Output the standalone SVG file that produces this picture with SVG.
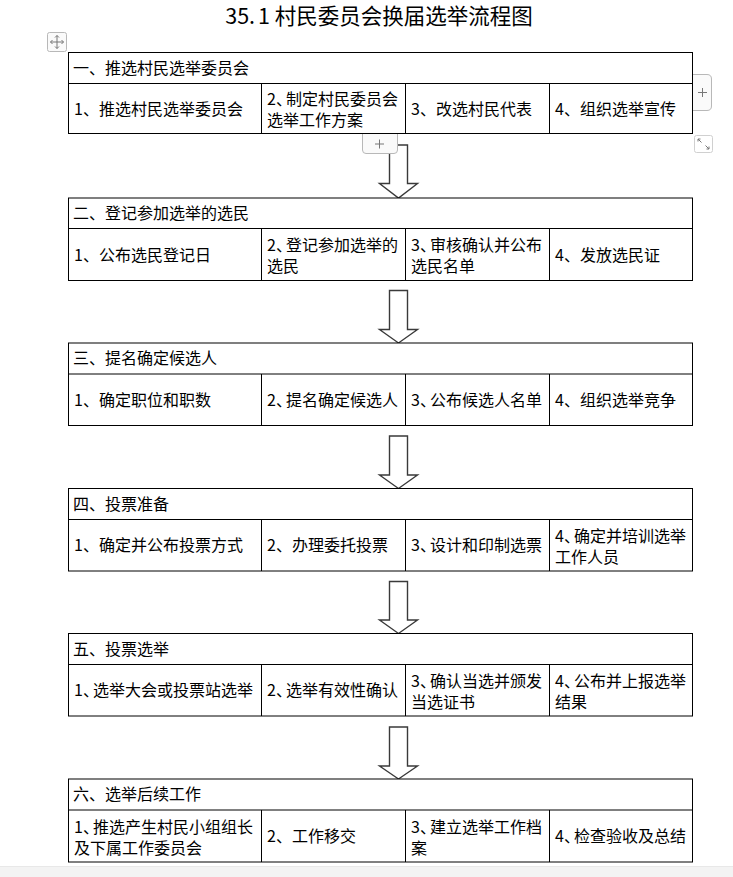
<svg xmlns="http://www.w3.org/2000/svg" width="733" height="877" viewBox="0 0 733 877">
<style>
.t{font-family:"Noto Sans CJK SC","Liberation Sans",sans-serif;font-size:16px;fill:#000}
.title{font-family:"Noto Sans CJK SC","Liberation Sans",sans-serif;font-size:21.5px;fill:#000}
.box{fill:#fff;stroke:#000;stroke-width:1}
.ln{stroke:#000;stroke-width:1;fill:none}
.arr{fill:#fff;stroke:#3a3a3a;stroke-width:1.4;stroke-linejoin:miter}
.ui{fill:#fafafa;stroke:#b8b8b8;stroke-width:1}
.uil{stroke:#777;stroke-width:1;fill:none}
</style>
<rect x="0" y="0" width="733" height="877" fill="#fff"/>
<text class="title" x="379" y="23.5" text-anchor="middle" dx="0 0 0 3">35.1 村民委员会换届选举流程图</text>

<g id="move-handle">
<rect class="ui" x="47.5" y="32.5" width="19" height="19" rx="2"/>
<path class="uil" d="M57 35.5 V48.5 M50.5 42 H63.5 M55 37.5 L57 35.5 L59 37.5 M55 46.5 L57 48.5 L59 46.5 M52.5 40 L50.5 42 L52.5 44 M61.5 40 L63.5 42 L61.5 44"/>
</g>

<g id="connectors">
<polygon class="arr" points="389.5,145 407.5,145 407.5,183.5 417.5,183.5 398.5,198 379.5,183.5 389.5,183.5"/>
<polygon class="arr" points="389.5,290.5 407.5,290.5 407.5,329.5 417.5,329.5 398.5,343 379.5,329.5 389.5,329.5"/>
<polygon class="arr" points="389.5,436 407.5,436 407.5,475 417.5,475 398.5,488.5 379.5,475 389.5,475"/>
<polygon class="arr" points="389.5,581.5 407.5,581.5 407.5,620 417.5,620 398.5,633.5 379.5,620 389.5,620"/>
<polygon class="arr" points="389.5,727 407.5,727 407.5,766 417.5,766 398.5,779 379.5,766 389.5,766"/>
</g>

<g id="box1">
<rect class="box" x="68.5" y="52.5" width="624" height="81"/>
<path class="ln" d="M68.5 83.5 H692.5 M261.5 83.5 V133.5 M405.5 83.5 V133.5 M549.5 83.5 V133.5"/>
<text class="t" x="73" y="73.5">一、推选村民选举委员会</text>
<text class="t" x="74" y="114.5">1、推选村民选举委员会</text>
<text class="t"><tspan x="267" y="105" dx="0 0 -6">2、制定村民委员会</tspan><tspan x="267" y="126">选举工作方案</tspan></text>
<text class="t" x="411" y="114.5">3、改选村民代表</text>
<text class="t" x="555" y="114.5">4、组织选举宣传</text>
</g>

<g id="box2">
<rect class="box" x="68.5" y="198" width="624" height="82.5"/>
<path class="ln" d="M68.5 228.5 H692.5 M261.5 228.5 V280.5 M405.5 228.5 V280.5 M549.5 228.5 V280.5"/>
<text class="t" x="73" y="219">二、登记参加选举的选民</text>
<text class="t" x="74" y="260.5">1、公布选民登记日</text>
<text class="t"><tspan x="267" y="251" dx="0 0 -6">2、登记参加选举的</tspan><tspan x="267" y="272">选民</tspan></text>
<text class="t"><tspan x="411" y="251" dx="0 0 -6">3、审核确认并公布</tspan><tspan x="411" y="272">选民名单</tspan></text>
<text class="t" x="555" y="260.5">4、发放选民证</text>
</g>

<g id="box3">
<rect class="box" x="68.5" y="343" width="624" height="82.5"/>
<path class="ln" d="M68.5 374 H692.5 M261.5 374 V425.5 M405.5 374 V425.5 M549.5 374 V425.5"/>
<text class="t" x="73" y="364">三、提名确定候选人</text>
<text class="t" x="74" y="405.75">1、确定职位和职数</text>
<text class="t" x="267" y="405.75" dx="0 0 -6">2、提名确定候选人</text>
<text class="t" x="411" y="405.75" dx="0 0 -6">3、公布候选人名单</text>
<text class="t" x="555" y="405.75">4、组织选举竞争</text>
</g>

<g id="box4">
<rect class="box" x="68.5" y="488.5" width="624" height="82.5"/>
<path class="ln" d="M68.5 519.5 H692.5 M261.5 519.5 V571 M405.5 519.5 V571 M549.5 519.5 V571"/>
<text class="t" x="73" y="509.5">四、投票准备</text>
<text class="t" x="74" y="551.25">1、确定并公布投票方式</text>
<text class="t" x="267" y="551.25">2、办理委托投票</text>
<text class="t" x="411" y="551.25" dx="0 0 -6">3、设计和印制选票</text>
<text class="t"><tspan x="555" y="541.75" dx="0 0 -6">4、确定并培训选举</tspan><tspan x="555" y="562.75">工作人员</tspan></text>
</g>

<g id="box5">
<rect class="box" x="68.5" y="633.5" width="624" height="82.5"/>
<path class="ln" d="M68.5 664.5 H692.5 M261.5 664.5 V716 M405.5 664.5 V716 M549.5 664.5 V716"/>
<text class="t" x="73" y="654.5">五、投票选举</text>
<text class="t" x="74" y="696.25" dx="0 0 -6">1、选举大会或投票站选举</text>
<text class="t" x="267" y="696.25" dx="0 0 -6">2、选举有效性确认</text>
<text class="t"><tspan x="411" y="686.75" dx="0 0 -6">3、确认当选并颁发</tspan><tspan x="411" y="707.75">当选证书</tspan></text>
<text class="t"><tspan x="555" y="686.75" dx="0 0 -6">4、公布并上报选举</tspan><tspan x="555" y="707.75">结果</tspan></text>
</g>

<g id="box6">
<rect class="box" x="68.5" y="779" width="624" height="83"/>
<path class="ln" d="M68.5 810 H692.5 M261.5 810 V862 M405.5 810 V862 M549.5 810 V862"/>
<text class="t" x="73" y="800">六、选举后续工作</text>
<text class="t"><tspan x="74" y="832.5" dx="0 0 -6">1、推选产生村民小组组长</tspan><tspan x="74" y="853.5">及下属工作委员会</tspan></text>
<text class="t" x="267" y="842">2、工作移交</text>
<text class="t"><tspan x="411" y="832.5" dx="0 0 -6">3、建立选举工作档</tspan><tspan x="411" y="853.5">案</tspan></text>
<text class="t" x="555" y="842" dx="0 0 -6">4、检查验收及总结</text>
</g>

<g id="add-row-handle">
<path class="ui" d="M362.5 134 V150 Q362.5 153.5 366 153.5 H394 Q397.5 153.5 397.5 150 V134"/>
<path class="uil" d="M375 144 H384 M379.5 139.5 V148.5"/>
</g>
<g id="add-col-handle">
<path class="ui" d="M693 74.5 H707 Q711.5 74.5 711.5 79 V106 Q711.5 110.5 707 110.5 H693"/>
<path class="uil" d="M698 92.5 H707 M702.5 88 V97"/>
</g>
<g id="resize-handle">
<rect x="694.5" y="135.5" width="18" height="17" rx="2" fill="#fff" stroke="#d0d0d0"/>
<path class="uil" stroke-width="0.8" d="M698 139 L701.5 142.5 M698 139 H700.5 M698 139 V141.5 M709 149 L705.5 145.5 M709 149 H706.5 M709 149 V146.5"/>
</g>

<rect x="0" y="867" width="733" height="10" fill="#f3f3f3"/>
<line x1="0" y1="866.5" x2="733" y2="866.5" stroke="#e8e8e8"/>
</svg>
